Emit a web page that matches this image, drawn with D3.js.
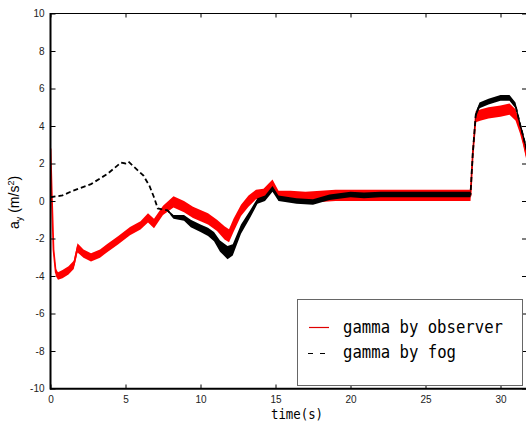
<!DOCTYPE html>
<html><head><meta charset="utf-8">
<script src="https://cdn.jsdelivr.net/npm/d3@7/dist/d3.min.js"></script>
<style>body{margin:0;background:#fff}svg{display:block}</style>
</head><body>
<script>
// ---- data ----
// red: gamma by observer (time s, centre value m/s^2, noise half-band)
const obsTime = [0.0,0.08,0.2,0.35,0.5,0.8,1.2,1.55,1.8,2.2,2.7,3.3,3.8,4.5,5.3,6.0,6.5,6.9,7.5,8.2,8.9,9.5,10.5,11.1,11.6,11.9,12.2,12.7,13.2,13.7,14.2,14.8,15.2,16,17,18,19,20,21,22,23,24,25,26,27,28.0,28.15,28.35,28.7,29.2,30.0,30.6,31.0,31.3,31.5,31.75];
const obsVal  = [2.8,0.5,-2.6,-3.8,-4.0,-3.9,-3.7,-3.4,-2.5,-2.8,-3.0,-2.8,-2.5,-2.1,-1.6,-1.3,-0.9,-1.2,-0.5,-0.05,-0.3,-0.6,-0.95,-1.3,-1.7,-1.85,-1.3,-0.5,0.0,0.35,0.4,0.95,0.3,0.25,0.2,0.25,0.3,0.3,0.3,0.3,0.3,0.3,0.3,0.3,0.3,0.3,2.5,4.5,4.6,4.7,4.8,4.9,4.6,3.9,3.3,2.4];
const obsBand = [0,0.1,0.15,0.2,0.2,0.22,0.22,0.22,0.25,0.22,0.22,0.22,0.22,0.22,0.22,0.22,0.25,0.25,0.25,0.3,0.3,0.3,0.3,0.3,0.35,0.35,0.35,0.3,0.3,0.25,0.25,0.2,0.25,0.3,0.3,0.3,0.3,0.3,0.3,0.3,0.3,0.3,0.3,0.3,0.3,0.3,0.3,0.3,0.3,0.3,0.3,0.3,0.3,0.3,0.3,0.3];
// black: gamma by fog
const fogTime = [0.0,0.8,1.5,2.7,3.8,4.7,5.0,5.2,5.8,6.2,6.6,6.9,7.15,7.8,8.2,8.9,9.35,10.0,10.5,10.9,11.3,11.8,12.15,12.7,13.3,13.8,14.3,14.8,15.2,16.4,17.5,18.6,20.0,20.9,22,24,26,28.0,28.15,28.35,28.6,29.2,30.0,30.6,31.0,31.3,31.5,31.75];
const fogVal  = [0.2,0.3,0.55,0.9,1.45,2.05,2.0,2.1,1.65,1.35,0.8,0.2,-0.4,-0.5,-0.85,-0.9,-1.2,-1.45,-1.65,-1.9,-2.4,-2.75,-2.6,-1.5,-0.7,0.0,0.15,0.65,0.15,0.0,-0.05,0.2,0.35,0.3,0.35,0.35,0.35,0.35,2.5,4.6,5.1,5.3,5.5,5.5,5.1,4.1,3.5,2.7];
const fogBand = [0,0,0,0,0,0,0,0,0,0,0,0,0,0.05,0.1,0.15,0.2,0.2,0.22,0.25,0.3,0.35,0.3,0.25,0.2,0.15,0.15,0.15,0.15,0.15,0.15,0.15,0.15,0.15,0.15,0.15,0.15,0.15,0.15,0.15,0.15,0.15,0.15,0.15,0.15,0.15,0.15,0.15];
const xTicks = [0,5,10,15,20,25,30];
const yTicks = [-10,-8,-6,-4,-2,0,2,4,6,8,10];
const legendLabels = ["gamma by observer","gamma by fog"];

const W = 526, H = 421;
const svg = d3.select("body").append("svg").attr("width",W).attr("height",H);
svg.append("rect").attr("width",W).attr("height",H).attr("fill","#fff");

const x = d3.scaleLinear().domain([0,31.7]).range([50.5,526]);
const y = d3.scaleLinear().domain([-10,10]).range([388.5,13.5]);

svg.append("defs").append("clipPath").attr("id","clip")
  .append("rect").attr("x",50).attr("y",13).attr("width",W-50).attr("height",376);

const g = svg.append("g").attr("clip-path","url(#clip)");

function pts(t,v,b){ return t.map((d,i)=>({t:d,v:v[i],b:b[i]})); }
const obs = pts(obsTime,obsVal,obsBand);
const fog = pts(fogTime,fogVal,fogBand);

const area = d3.area().x(d=>x(d.t)).y0(d=>y(d.v-d.b)).y1(d=>y(d.v+d.b));
const line = d3.line().x(d=>x(d.t)).y(d=>y(d.v));

g.append("path").datum(obs).attr("d",area).attr("fill","#ff0000");
g.append("path").datum(obs).attr("d",line).attr("fill","none").attr("stroke","#ff0000").attr("stroke-width",1.8);

g.append("path").datum(fog.filter(d=>d.t>=7.5)).attr("d",area).attr("fill","#000");
g.append("path").datum(fog).attr("d",line).attr("fill","none").attr("stroke","#000")
  .attr("stroke-width",1.8).attr("stroke-dasharray","5,3");

// axes
const tickFont = "'Liberation Sans', Arial, sans-serif";
const ax = svg.append("g").attr("transform","translate(50.5,0)")
  .call(d3.axisLeft(y).tickValues(yTicks).tickSize(-5).tickPadding(6));
const bx = svg.append("g").attr("transform","translate(0,388.5)")
  .call(d3.axisBottom(x).tickValues(xTicks).tickSize(-4).tickPadding(7));
const tx = svg.append("g").attr("transform","translate(0,13.5)")
  .call(d3.axisTop(x).tickValues(xTicks).tickSize(-4).tickFormat(""));
const rx = svg.append("g").attr("transform","translate(526,0)")
  .call(d3.axisRight(y).tickValues(yTicks).tickSize(-4).tickFormat(""));
[ax,bx,tx,rx].forEach(a=>{
  a.select(".domain").remove();
  a.selectAll("line").attr("stroke","#000");
  a.selectAll("text").attr("font-family",tickFont).attr("font-size",10).attr("fill","#222");
});
ax.selectAll("text").text(d=>String(d));
svg.append("line").attr("x1",50.5).attr("x2",50.5).attr("y1",13).attr("y2",389.5).attr("stroke","#000").attr("stroke-width",2);
svg.append("line").attr("x1",50).attr("x2",526).attr("y1",388.8).attr("y2",388.8).attr("stroke","#000").attr("stroke-width",2);
svg.append("line").attr("x1",50).attr("x2",526).attr("y1",13.5).attr("y2",13.5).attr("stroke","#000").attr("stroke-width",1.2);

// axis titles
const mono = "'DejaVu Sans Mono', 'Liberation Mono', monospace";
svg.append("text").attr("x",271).attr("y",418.5).attr("font-family",mono).attr("font-size",14)
  .attr("textLength",52).attr("lengthAdjust","spacingAndGlyphs").attr("fill","#000").text("time(s)");

const yl = svg.append("text").attr("transform","translate(19,229) rotate(-90)")
  .attr("font-family",tickFont).attr("font-size",14).attr("fill","#000");
yl.append("tspan").text("a");
yl.append("tspan").attr("font-size",9).attr("dy",3).text("y");
yl.append("tspan").attr("dy",-3).text(" (m/s");
yl.append("tspan").attr("font-size",9).attr("dy",-5).text("2");
yl.append("tspan").attr("dy",5).text(")");

// legend
const lg = svg.append("g");
lg.append("rect").attr("x",297.5).attr("y",299.5).attr("width",225).attr("height",86)
  .attr("fill","#fff").attr("stroke","#666").attr("stroke-width",1);
lg.append("line").attr("x1",309).attr("x2",329).attr("y1",327.5).attr("y2",327.5).attr("stroke","#e00000").attr("stroke-width",1.2);
lg.append("line").attr("x1",308).attr("x2",330).attr("y1",353.5).attr("y2",353.5).attr("stroke","#000").attr("stroke-width",1.2).attr("stroke-dasharray","5,7");
lg.append("text").attr("x",343).attr("y",333).attr("font-family",mono).attr("font-size",18)
  .attr("textLength",160).attr("lengthAdjust","spacingAndGlyphs").attr("fill","#000").text(legendLabels[0]);
lg.append("text").attr("x",343).attr("y",358).attr("font-family",mono).attr("font-size",18)
  .attr("textLength",113).attr("lengthAdjust","spacingAndGlyphs").attr("fill","#000").text(legendLabels[1]);
</script>
</body></html>
